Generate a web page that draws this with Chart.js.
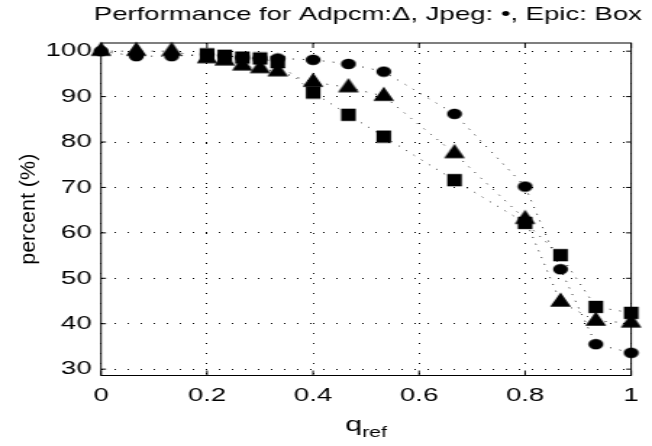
<!DOCTYPE html>
<html>
<head>
<meta charset="utf-8">
<script src="https://cdn.jsdelivr.net/npm/chart.js@4/dist/chart.umd.min.js"></script>
<style>
  html, body { margin: 0; padding: 0; background: #fff; }
  #wrap { position: absolute; left: 0; top: 0; width: 450px; height: 446px;
          transform: scaleX(1.448889); transform-origin: 0 0; }
</style>
</head>
<body>
<div id="wrap"><canvas id="c" width="450" height="446"></canvas></div>
<script>
// ---- data ----
const qRef = [0, 0.0667, 0.1333, 0.2, 0.2333, 0.2667, 0.3, 0.3333, 0.4, 0.4667, 0.5333, 0.6667, 0.8, 0.8667, 0.9333, 1];
const adpcm = [100, 100, 100, 98.4, 97.9, 96.8, 96.2, 95.5, 93.2, 92.0, 90.1, 77.5, 63.0, 44.8, 40.6, 40.2];
const jpeg  = [100, 98.9, 98.9, 99.3, 99.0, 98.6, 98.4, 98.4, 98.1, 97.2, 95.5, 86.2, 70.2, 52.0, 35.5, 33.6];
const epic  = [null, null, null, 99.3, 99.0, 98.6, 98.4, 97.6, 90.9, 86.0, 81.2, 71.6, 62.2, 55.1, 43.7, 42.4];
const xTicks = [0, 0.2, 0.4, 0.6, 0.8, 1];
const xTickLabels = ['0', '0.2', '0.4', '0.6', '0.8', '1'];
const yTicks = [30, 40, 50, 60, 70, 80, 90, 100];
const titleText = 'Performance for Adpcm:\u0394, Jpeg: \u2022, Epic: Box';
const yTitle = 'percent (%)';
const xTitleMain = 'q';
const xTitleSub = 'ref';

// ---- styling ----
const S = 652 / 450;            // horizontal stretch of the whole picture
const FONT = '"Liberation Sans", Arial, Helvetica, sans-serif';
Chart.defaults.font.family = FONT;
Chart.defaults.color = '#000';

function marker(kind) {
  const c = document.createElement('canvas');
  const g = c.getContext('2d');
  g.fillStyle = '#000';
  if (kind === 'circle') {
    c.width = 12; c.height = 12;
    g.fillStyle = '#000';
    g.beginPath(); g.ellipse(6, 6, 5.17, 5.35, 0, 0, Math.PI * 2); g.fill();
  } else if (kind === 'square') {
    c.width = 12; c.height = 14;
    g.fillStyle = '#000';
    g.fillRect(6 - 5.07, 7 - 6.15, 10.14, 12.3);
  } else {
    c.width = 16; c.height = 20;
    g.fillStyle = '#000';
    g.beginPath();
    g.moveTo(8, 0.53); g.lineTo(8 + 7.17, 14.73); g.lineTo(8 - 7.17, 14.73);
    g.closePath(); g.fill();
  }
  return c;
}

function pts(ys) {
  const out = [];
  qRef.forEach((x, i) => { if (ys[i] !== null) out.push({ x: x, y: ys[i] }); });
  return out;
}

const lineStyle = { showLine: true, borderColor: 'rgba(0,0,0,0.85)', borderWidth: 1,
                    borderDash: [1, 6], clip: false, pointRadius: 7, pointHoverRadius: 7 };

const framePlugin = {
  id: 'frame',
  beforeDatasetsDraw(chart) {
    const { ctx, chartArea: a, scales } = chart;
    ctx.save();
    ctx.strokeStyle = '#000';
    ctx.lineWidth = 1;
    ctx.strokeRect(a.left, a.top, a.right - a.left, a.bottom - a.top);
    ctx.beginPath();
    xTicks.forEach(v => {
      const px = scales.x.getPixelForValue(v);
      ctx.moveTo(px, a.bottom); ctx.lineTo(px, a.bottom - 5);
      ctx.moveTo(px, a.top); ctx.lineTo(px, a.top + 5);
    });
    yTicks.forEach(v => {
      const py = scales.y.getPixelForValue(v);
      ctx.moveTo(a.left, py); ctx.lineTo(a.left + 3.5, py);
      ctx.moveTo(a.right, py); ctx.lineTo(a.right - 3.5, py);
    });
    ctx.stroke();
    ctx.restore();
  },
  afterDraw(chart) {
    const { ctx, chartArea: a } = chart;
    ctx.save();
    ctx.fillStyle = '#000';
    // y axis title (not stretched in the reference)
    ctx.translate(28.8 / S, (a.top + a.bottom) / 2);
    ctx.scale(1 / S, 1);
    ctx.rotate(-Math.PI / 2);
    ctx.font = '21.5px ' + FONT;
    ctx.textAlign = 'center';
    ctx.textBaseline = 'middle';
    ctx.fillText(yTitle, 0, 0);
    ctx.restore();
    // x axis title with subscript
    ctx.save();
    ctx.fillStyle = '#000';
    ctx.textBaseline = 'alphabetic';
    ctx.textAlign = 'left';
    ctx.font = '21px ' + FONT;
    const wq = ctx.measureText(xTitleMain).width;
    ctx.font = '14.7px ' + FONT;
    const wr = ctx.measureText(xTitleSub).width;
    const cx = (a.left + a.right) / 2;
    const x0 = cx - (wq + wr) / 2;
    ctx.font = '21px ' + FONT;
    ctx.fillText(xTitleMain, x0, 431);
    ctx.font = '14.7px ' + FONT;
    ctx.fillText(xTitleSub, x0 + wq, 437);
    ctx.restore();
  }
};

new Chart(document.getElementById('c'), {
  type: 'scatter',
  data: {
    datasets: [
      Object.assign({ label: 'Epic', data: pts(epic), pointStyle: marker('square') }, lineStyle),
      Object.assign({ label: 'Jpeg', data: pts(jpeg), pointStyle: marker('circle') }, lineStyle),
      Object.assign({ label: 'Adpcm', data: pts(adpcm), pointStyle: marker('triangle') }, lineStyle)
    ]
  },
  options: {
    responsive: false,
    animation: false,
    events: [],
    layout: { padding: { left: 0, right: 6.9, top: 0, bottom: 0 } },
    plugins: {
      legend: { display: false },
      tooltip: { enabled: false },
      title: {
        display: true, text: titleText, fullSize: true, align: 'end', color: '#000',
        font: { size: 19, weight: 'normal', family: FONT, lineHeight: 1.2 },
        padding: { top: 3.8, bottom: 16.4 }
      }
    },
    scales: {
      x: {
        type: 'linear', position: 'bottom', min: 0, max: 1,
        afterBuildTicks: s => { s.ticks = xTicks.map(v => ({ value: v })); },
        afterFit: s => { s.height = 70.5; },
        ticks: { font: { size: 19 }, color: '#000', padding: 9.1, maxRotation: 0, autoSkip: false,
                 callback: (v, i) => xTickLabels[i] },
        grid: { drawTicks: false, color: '#000', lineWidth: 1 },
        border: { display: false, dash: [1, 9] }
      },
      y: {
        type: 'linear', position: 'left', min: 28.6, max: 101.8,
        afterBuildTicks: s => { s.ticks = yTicks.map(v => ({ value: v })); },
        afterFit: s => { s.width = 69.7; },
        ticks: { font: { size: 19 }, color: '#000', padding: 6.5, callback: v => String(v) },
        grid: { drawTicks: false, color: '#000', lineWidth: 1 },
        border: { display: false, dash: [1, 8] }
      },
      y2: {
        type: 'linear', position: 'right', min: 28.6, max: 101.8,
        afterFit: s => { s.width = 6.9; },
        ticks: { display: false },
        grid: { display: false, drawTicks: false },
        border: { display: false }
      }
    }
  },
  plugins: [framePlugin]
});
</script>
</body>
</html>
